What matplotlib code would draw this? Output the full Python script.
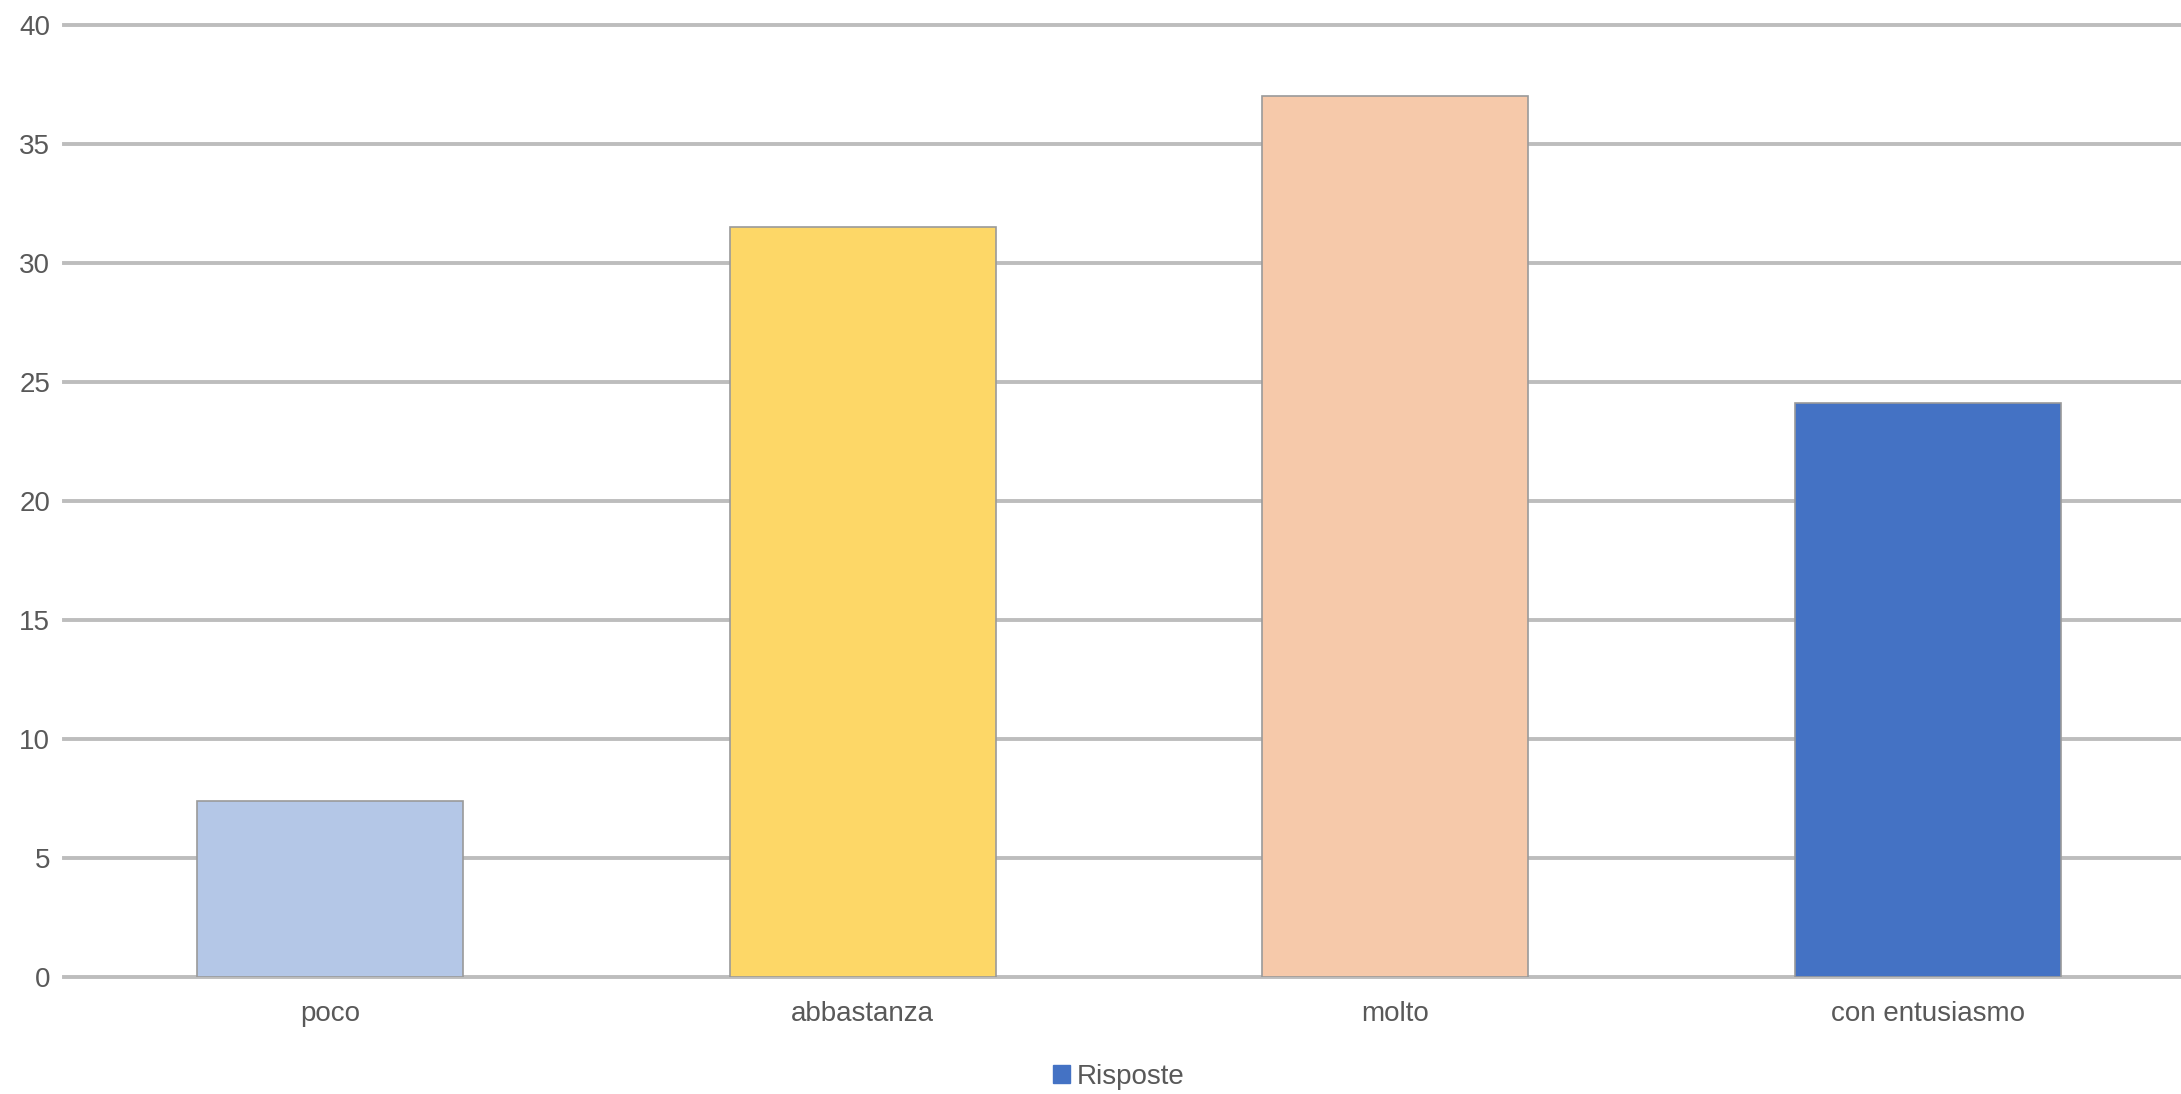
import matplotlib.pyplot as plt

categories = ['poco', 'abbastanza', 'molto', 'con entusiasmo']
values = [7.4, 31.5, 37.0, 24.1]
bar_colors = ['#B4C7E7', '#FDD767', '#F6C9AA', '#4472C4']
y_ticks = [0, 5, 10, 15, 20, 25, 30, 35, 40]
legend_label = 'Risposte'

plt.rcParams['font.family'] = ['Liberation Sans', 'DejaVu Sans']

W, H = 2181, 1094
fig = plt.figure(figsize=(W / 100, H / 100), dpi=100)
# axes: left edge at 64 px, y=0 at 977 px, y=40 at 25 px, right side runs past the image
left, right = 64 / W, 2194 / W
bottom, top = 1 - 977 / H, 1 - 25 / H
ax = fig.add_axes([left, bottom, right - left, top - bottom])

x = range(len(categories))
ax.bar(x, values, width=0.5, color=bar_colors, edgecolor='#9A9A9A', linewidth=1.2, zorder=3)

ax.set_xlim(-0.5, 3.5)
ax.set_ylim(0, 40)
ax.set_yticks(y_ticks)
ax.set_xticks(list(x))
ax.set_xticklabels(categories)
ax.grid(axis='y', color='#BDBDBD', linewidth=2.8, zorder=0)
ax.set_axisbelow(True)
for gl in ax.get_ygridlines():
    gl.set_clip_on(False)
for s in ax.spines.values():
    s.set_visible(False)
ax.tick_params(axis='both', length=0, labelsize=20, colors='#595959')
ax.tick_params(axis='y', pad=10)
ax.tick_params(axis='x', pad=17)

handle = plt.Rectangle((0, 0), 1, 1, color='#4472C4')
fig.legend([handle], [legend_label], loc='center', bbox_to_anchor=(1119 / W, 1 - 1077 / H),
           frameon=False, fontsize=20, handlelength=0.6, handleheight=0.6,
           handletextpad=0.25, labelcolor='#595959')

fig.savefig('out.png', dpi=100, facecolor='white')
